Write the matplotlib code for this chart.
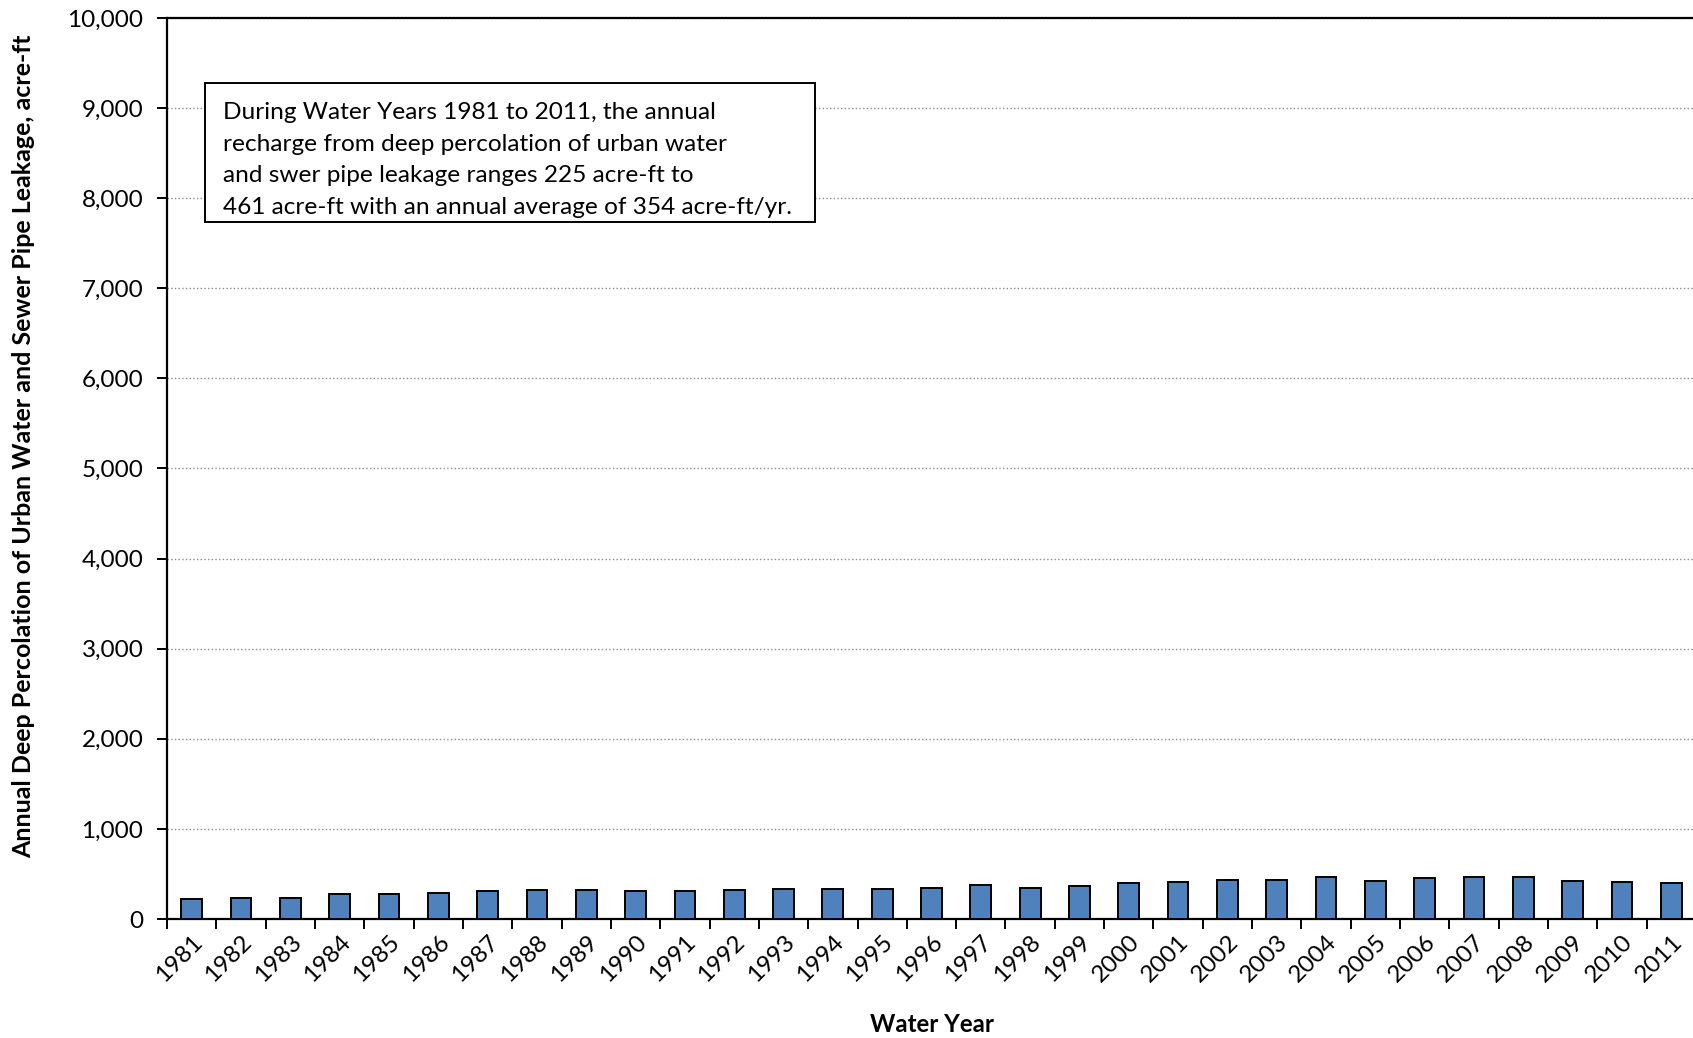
import numpy as np
import matplotlib
matplotlib.use("Agg")
import matplotlib.pyplot as plt
from matplotlib.patches import Rectangle
from matplotlib.ticker import FuncFormatter

plt.rcParams['font.family'] = ['Lato', 'DejaVu Sans']

years = list(range(1981, 2012))
leakage = [225, 231, 235, 272, 280, 291, 306, 317, 321, 313,
           306, 325, 328, 336, 328, 347, 377, 343, 369, 396,
           410, 433, 433, 461, 418, 451, 461, 461, 422, 407, 399]
y_ticks = list(range(0, 10001, 1000))
note_lines = ["During Water Years 1981 to 2011, the annual",
              "recharge from deep percolation of urban water",
              "and swer pipe leakage ranges 225 acre-ft to",
              "461 acre-ft with an annual average of 354 acre-ft/yr."]

W, H = 1693, 1038
fig = plt.figure(figsize=(W / 100, H / 100), dpi=100)
ax = fig.add_axes([167 / W, 119 / H, 1529 / W, 901 / H])

x = np.arange(len(years))
ax.bar(x, leakage, width=0.42, color='#4F81BD', edgecolor='black',
       linewidth=1.4, zorder=3)

ax.set_xlim(-0.5, len(years) - 0.5)
ax.set_ylim(0, 10000)

# year labels at the bar centres, tick marks between the bars
ax.set_xticks(x)
ax.set_xticklabels([str(y) for y in years], rotation=45, ha='right',
                   rotation_mode='anchor', fontsize=17.5)
ax.set_xticks(np.arange(-0.5, len(years), 1.0), minor=True)
ax.tick_params(axis='x', which='major', length=0, pad=9)
ax.tick_params(axis='x', which='minor', length=7, width=1.4, direction='out')

ax.set_yticks(y_ticks)
ax.yaxis.set_major_formatter(FuncFormatter(lambda v, p: '{:,}'.format(int(v))))
ax.tick_params(axis='y', length=7, width=1.4, labelsize=17.5, pad=10)

ax.grid(axis='y', linestyle=':', color='#8c8c8c', linewidth=1.0, zorder=0)
ax.set_axisbelow(True)

for side in ['left', 'bottom', 'top']:
    ax.spines[side].set_linewidth(1.6)
ax.spines['right'].set_visible(False)

# note box
box = Rectangle((205 / W, 1 - 222 / H), 610 / W, 139 / H, transform=fig.transFigure,
                facecolor='white', edgecolor='black', linewidth=1.4, zorder=5)
fig.add_artist(box)
fig.text(223 / W, 1 - 160 / H, "\n".join(note_lines), ha='left', va='center',
         fontsize=17.6, linespacing=1.62, zorder=6)

fig.text(24 / W, 1 - 446 / H,
         "Annual Deep Percolation of Urban Water and Sewer Pipe Leakage, acre-ft",
         rotation=90, ha='center', va='center', fontsize=18, fontweight='bold')
fig.text(932 / W, 1 - 1025 / H, "Water Year", ha='center', va='center',
         fontsize=17.4, fontweight='bold')

fig.savefig('out.png', dpi=100)
